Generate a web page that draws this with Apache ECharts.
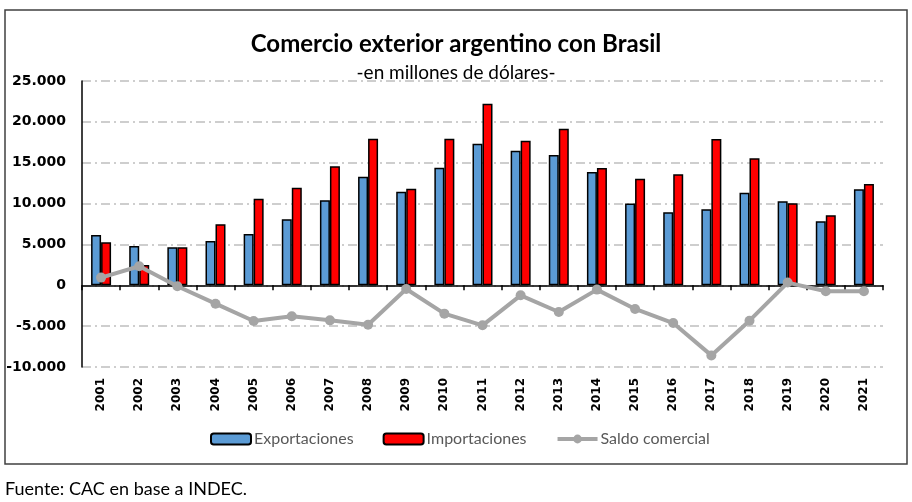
<!DOCTYPE html>
<html>
<head>
<meta charset="utf-8">
<script src="https://cdn.jsdelivr.net/npm/echarts@6/dist/echarts.min.js"></script>
<style>
  html, body { margin: 0; padding: 0; background: #fff; }
  #chart { width: 912px; height: 502px; }
</style>
</head>
<body>
<div id="chart"></div>
<script>
// datos
var anios = ['2001','2002','2003','2004','2005','2006','2007','2008','2009','2010','2011',
             '2012','2013','2014','2015','2016','2017','2018','2019','2020','2021'];
var exportaciones = [6160, 4820, 4660, 5430, 6290, 8090, 10420, 13270, 11440, 14380, 17320,
                     16460, 15930, 13850, 10010, 8950, 9310, 11310, 10290, 7840, 11760];
var importaciones = [5270, 2490, 4660, 7480, 10580, 11930, 14580, 17930, 11810, 17930, 22220,
                     17690, 19160, 14340, 13030, 13600, 17890, 15560, 10050, 8580, 12380];
var saldo = [940, 2330, -120, -2250, -4370, -3800, -4290, -4820, -450, -3470, -4900,
             -1230, -3270, -530, -2900, -4620, -8580, -4330, 330, -735, -735];
var ticksY = [-10000, -5000, 0, 5000, 10000, 15000, 20000, 25000];

var chart = echarts.init(document.getElementById('chart'));

var fuenteTexto = 'Lato';
var dashDot = [9, 4, 2, 4];

var option = {
    backgroundColor: '#fff',
    animation: false,
    title: {
        text: 'Comercio exterior argentino con Brasil',
        subtext: '-en millones de dólares-',
        left: 'center',
        top: 27,
        itemGap: 7,
        textStyle: { fontFamily: fuenteTexto, fontWeight: 'bold', fontSize: 24, color: '#000' },
        subtextStyle: { fontFamily: fuenteTexto, fontSize: 19, color: '#000' }
    },
    legend: {
        left: 205,
        top: 426,
        itemWidth: 40,
        itemHeight: 11,
        itemGap: 29,
        textStyle: { fontFamily: fuenteTexto, fontSize: 16, color: '#595959', padding: [0, 0, 0, -2] },
        data: [
            'Exportaciones',
            'Importaciones',
            { name: 'Saldo comercial', lineStyle: { width: 4 }, itemStyle: { color: '#a5a5a5' } }
        ]
    },
    grid: { left: 82, right: 29, top: 81, bottom: 135 },
    xAxis: [
        { // eje en el cero, con marcas entre categorias
            type: 'category',
            data: anios,
            axisLine: { onZero: true, lineStyle: { color: '#000', width: 1.5 } },
            axisTick: { show: true, length: 5, lineStyle: { color: '#000', width: 1.5 } },
            axisLabel: { show: false },
            splitLine: { show: false }
        },
        { // etiquetas abajo
            type: 'category',
            data: anios,
            position: 'bottom',
            axisLine: { show: false, onZero: false },
            axisTick: { show: false },
            axisLabel: {
                rotate: 90,
                margin: 11,
                fontFamily: 'DejaVu Sans',
                fontWeight: 'bold',
                fontSize: 12,
                color: '#000'
            }
        }
    ],
    yAxis: {
        type: 'value',
        min: ticksY[0],
        max: ticksY[ticksY.length - 1],
        interval: 5000,
        axisLine: { show: true, lineStyle: { color: '#000', width: 1.5 } },
        axisTick: { show: false },
        axisLabel: {
            margin: 16,
            fontFamily: 'DejaVu Sans',
            fontWeight: 'bold',
            fontSize: 14,
            color: '#000',
            formatter: function (v) {
                var s = Math.abs(v).toString().replace(/\B(?=(\d{3})+(?!\d))/g, '.');
                return (v < 0 ? '-' : '') + s;
            }
        },
        splitLine: { show: true, lineStyle: { color: '#bfbfbf', width: 1.5, type: dashDot } }
    },
    series: [
        {
            name: 'Exportaciones',
            type: 'bar',
            xAxisIndex: 0,
            barWidth: 10,
            barGap: '0%',
            itemStyle: { color: '#5b9bd5', borderColor: '#000', borderWidth: 1.5 },
            data: exportaciones
        },
        {
            name: 'Importaciones',
            type: 'bar',
            xAxisIndex: 0,
            barWidth: 10,
            itemStyle: { color: '#ff0000', borderColor: '#000', borderWidth: 1.5 },
            data: importaciones
        },
        {
            name: 'Saldo comercial',
            type: 'line',
            xAxisIndex: 0,
            symbol: 'circle',
            symbolSize: 10,
            z: 5,
            lineStyle: { color: '#a5a5a5', width: 4 },
            itemStyle: { color: '#a5a5a5' },
            data: saldo
        }
    ],
    graphic: [
        {
            type: 'rect',
            z: -1,
            shape: { x: 5, y: 10, width: 902, height: 454 },
            style: { fill: 'none', stroke: '#404040', lineWidth: 1.5 }
        },
        {
            type: 'text',
            left: 5,
            top: 480,
            style: { text: 'Fuente: CAC en base a INDEC.', font: '18px Lato', fill: '#000' }
        }
    ]
};

chart.setOption(option);
</script>
</body>
</html>
